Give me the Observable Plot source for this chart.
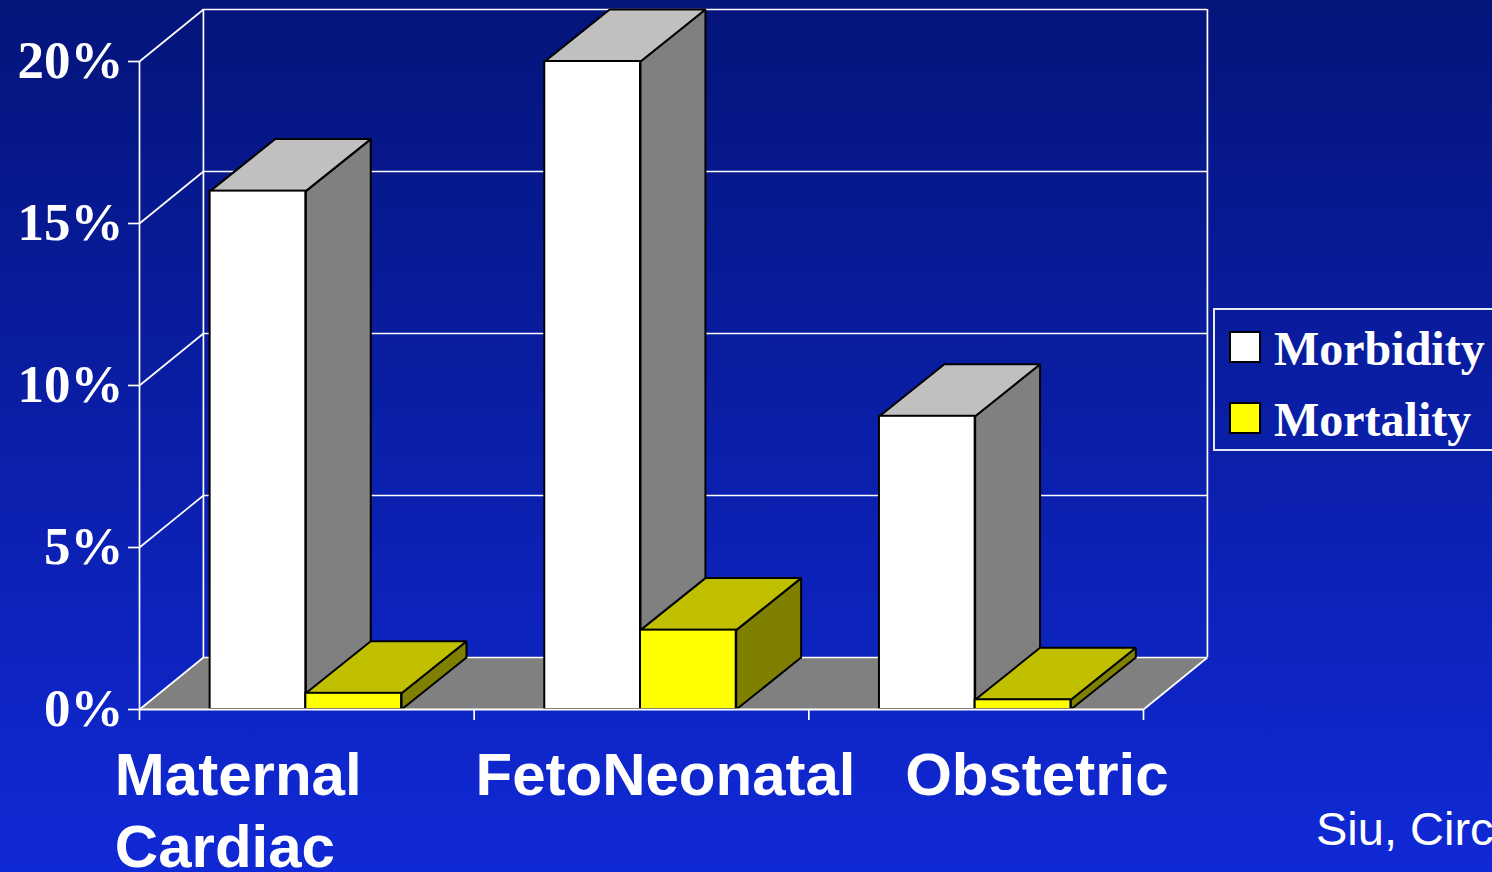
<!DOCTYPE html>
<html>
<head>
<meta charset="utf-8">
<script src="https://cdn.jsdelivr.net/npm/d3@7"></script>
<script src="https://cdn.jsdelivr.net/npm/@observablehq/plot@0.6"></script>
<style>
html,body{margin:0;padding:0;width:1492px;height:872px;overflow:hidden;}
body{position:relative;background:linear-gradient(#04147a,#1029d6);}
#chart svg{display:block;background:none;}
#legend{position:absolute;left:1213px;top:308px;width:290px;height:139px;border:2px solid #e8e8f4;font:bold 48px "Liberation Serif",serif;color:#fff;}
#legend .row{position:absolute;left:59px;line-height:48px;white-space:nowrap;}
#legend .sw{position:absolute;left:14px;width:28px;height:28px;border:2px solid #000;}
#caption{position:absolute;left:1316px;top:800px;font:47px/58px "Liberation Sans",sans-serif;color:#fff;white-space:nowrap;}
</style>
</head>
<body>
<div id="chart"></div>
<div id="legend"></div>
<div id="caption">Siu, Circ</div>
<script>
const categories = ["Maternal\nCardiac", "FetoNeonatal", "Obstetric"];
const morbidity = [16.0, 20.0, 9.05];
const mortality = [0.5, 2.45, 0.3];
const yTicks = [0, 5, 10, 15, 20];
const seriesNames = ["Morbidity", "Mortality"];

// Layout of the pseudo-3D box, in scale units
const wallX = 0.191, depthX = 0.194, depthY = 1.605;
const barStart = 0.211, barWidth = 0.286;
const labelDx = [-192, -166, -71];
const palette = {
  Morbidity: {front: "#ffffff", top: "#c0c0c0", side: "#808080"},
  Mortality: {front: "#ffff00", top: "#c0c000", side: "#808000"}
};

const bars = [];
categories.forEach((c, i) => {
  bars.push({series: "Morbidity", x1: i + barStart, x2: i + barStart + barWidth, v: morbidity[i]});
  bars.push({series: "Mortality", x1: i + barStart + barWidth, x2: i + barStart + 2 * barWidth, v: mortality[i]});
});

const faces = [];
function addFace(id, fill, pts) {
  pts.concat([pts[0]]).forEach(([x, y]) => faces.push({id, fill, x, y}));
}
bars.forEach((b, k) => {
  const p = palette[b.series];
  addFace(k + "side", p.side, [[b.x2, 0], [b.x2 + depthX, depthY], [b.x2 + depthX, b.v + depthY], [b.x2, b.v]]);
  addFace(k + "top", p.top, [[b.x1, b.v], [b.x2, b.v], [b.x2 + depthX, b.v + depthY], [b.x1 + depthX, b.v + depthY]]);
});

const floor = [[0, 0], [3, 0], [3 + wallX, depthY], [wallX, depthY]].map(([x, y]) => ({x, y}));
const W = "#ffffff", GW = 1.7, BW = 2;

const plot = Plot.plot({
  width: 1492, height: 872,
  marginLeft: 139, marginRight: 349, marginTop: 61, marginBottom: 163,
  style: {background: "none", overflow: "hidden"},
  x: {domain: [0, 3]},
  y: {domain: [0, 20]},
  color: {type: "identity"},
  marks: [
    Plot.line(floor, {x: "x", y: "y", fill: "#808080", stroke: "none"}),
    // back wall
    Plot.ruleY(yTicks, {y: d => d + depthY, x1: wallX, x2: 3 + wallX, stroke: W, strokeWidth: GW}),
    Plot.ruleX([wallX], {y1: depthY, y2: 20 + depthY, stroke: W, strokeWidth: GW}),
    Plot.ruleX([3 + wallX], {y1: depthY, y2: 20 + depthY, stroke: W, strokeWidth: GW}),
    // side wall
    Plot.ruleX([0], {y1: 0, y2: 20, stroke: W, strokeWidth: GW}),
    Plot.link(yTicks, {x1: 0, y1: d => d, x2: wallX, y2: d => d + depthY, stroke: W, strokeWidth: GW}),
    Plot.link([0], {x1: 3, y1: 0, x2: 3 + wallX, y2: depthY, stroke: W, strokeWidth: GW}),
    // axes
    Plot.axisY({ticks: yTicks, tickSize: 11, tickPadding: 5, tickFormat: d => d + "%", label: null,
      stroke: W, strokeWidth: GW, fill: W,
      fontFamily: "Liberation Serif", fontWeight: "bold", fontSize: 53}),
    Plot.axisX({ticks: [0, 1, 2, 3], tickSize: 11, tickFormat: () => "", label: null, stroke: W, strokeWidth: GW}),
    // bars
    Plot.line(faces, {x: "x", y: "y", z: "id", fill: "fill", stroke: "#000", strokeWidth: BW, strokeLinejoin: "miter"}),
    Plot.rect(bars, {x1: "x1", x2: "x2", y1: 0, y2: "v", fill: d => palette[d.series].front, stroke: "#000", strokeWidth: BW}),
    Plot.ruleY([0], {x1: 0, x2: 3, stroke: W, strokeWidth: 2}),
    // category labels
    ...categories.map((c, i) => Plot.text([c], {
      x: i + 0.5, y: 0, text: d => d, dx: labelDx[i], dy: 34,
      textAnchor: "start", lineAnchor: "top", lineHeight: 1.2,
      fill: W, fontFamily: "Liberation Sans", fontWeight: "bold", fontSize: 60
    }))
  ]
});
document.getElementById("chart").appendChild(plot);

const legend = document.getElementById("legend");
seriesNames.forEach((name, i) => {
  const sw = document.createElement("div");
  sw.className = "sw";
  sw.style.top = (21 + 71 * i) + "px";
  sw.style.background = palette[name].front;
  legend.appendChild(sw);
  const row = document.createElement("div");
  row.className = "row";
  row.textContent = name;
  row.style.top = (15 + 71 * i) + "px";
  legend.appendChild(row);
});
</script>
</body>
</html>
